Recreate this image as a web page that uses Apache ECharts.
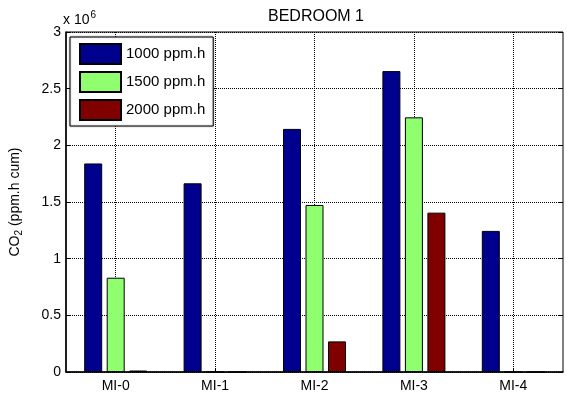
<!DOCTYPE html>
<html>
<head>
<meta charset="utf-8">
<script src="https://cdn.jsdelivr.net/npm/echarts@6/dist/echarts.min.js"></script>
<style>
  html, body { margin: 0; padding: 0; background: #fff; }
  #chart { width: 567px; height: 401px; }
</style>
</head>
<body>
<div id="chart"></div>
<script>
// Cumulative CO2 exposure above thresholds, per scenario
const categories = ['MI-0', 'MI-1', 'MI-2', 'MI-3', 'MI-4'];
const seriesNames = ['1000 ppm.h', '1500 ppm.h', '2000 ppm.h'];
const above1000 = [1840000, 1665000, 2145000, 2655000, 1245000];
const above1500 = [832000, 0, 1474000, 2247000, 0];
const above2000 = [13000, 0, 270000, 1406000, 0];
const yTicks = [0, 500000, 1000000, 1500000, 2000000, 2500000, 3000000];
const colors = ['#00008F', '#8FFF70', '#800000'];

const FONT = 'Liberation Sans, Arial, sans-serif';
const chart = echarts.init(document.getElementById('chart'), null, { renderer: 'canvas' });

const values = [above1000, above1500, above2000];
const series = values.map((vals, i) => ({
  name: seriesNames[i],
  type: 'bar',
  data: vals,
  barWidth: 18,
  barGap: '25%',
  itemStyle: { color: colors[i], borderColor: '#000', borderWidth: 1 },
  emphasis: { disabled: true },
  animation: false
}));

const gridLine = { show: true, lineStyle: { color: '#000', type: [1, 1], width: 1 } };

chart.setOption({
  animation: false,
  title: {
    text: 'BEDROOM 1',
    left: 311, top: 4, textAlign: 'center',
    textStyle: { fontFamily: FONT, fontSize: 16, fontWeight: 'normal', color: '#000' }
  },
  legend: {
    orient: 'vertical',
    left: 70, top: 37,
    padding: [6, 8, 5, 9],
    itemWidth: 41, itemHeight: 20, itemGap: 6,
    icon: 'rect',
    backgroundColor: '#fff',
    borderColor: '#000', borderWidth: 1,
    shadowColor: 'rgba(0,0,0,0.35)', shadowBlur: 2,
    textStyle: { fontFamily: FONT, fontSize: 15, color: '#000', padding: [0, 0, 0, 0] },
    data: seriesNames
  },
  grid: {
    left: 62, right: 4, top: 32, bottom: 29,
    show: true, borderColor: '#000', borderWidth: 1, backgroundColor: 'transparent'
  },
  xAxis: {
    type: 'category',
    data: categories,
    axisLine: { lineStyle: { color: '#000', width: 1.5 } },
    axisTick: { show: true, inside: true, alignWithLabel: true, length: 4, lineStyle: { color: '#000' } },
    splitLine: Object.assign({ alignWithLabel: true }, gridLine),
    axisLabel: { fontFamily: FONT, fontSize: 14, color: '#000', margin: 7 }
  },
  yAxis: [{
    type: 'value',
    min: yTicks[0], max: yTicks[yTicks.length - 1], interval: yTicks[1] - yTicks[0],
    axisLine: { show: true, lineStyle: { color: '#000', width: 1.5 } },
    axisTick: { show: true, inside: true, length: 4, lineStyle: { color: '#000' } },
    splitLine: gridLine,
    axisLabel: {
      fontFamily: FONT, fontSize: 14, color: '#000', margin: 5,
      formatter: v => String(v / 1e6)
    },
    name: '{n|CO}{s|2}{n| (ppm.h cum)}',
    nameLocation: 'middle',
    nameGap: 42,
    nameRotate: 90,
    nameTextStyle: {
      rich: {
        n: { fontFamily: FONT, fontSize: 14, color: '#000' },
        s: { fontFamily: FONT, fontSize: 10, color: '#000', verticalAlign: 'bottom', padding: [8, 0, 0, 0] }
      }
    }
  }, {
    type: 'value',
    position: 'right',
    min: yTicks[0], max: yTicks[yTicks.length - 1], interval: yTicks[1] - yTicks[0],
    axisLine: { show: false },
    axisTick: { show: true, inside: true, length: 4, lineStyle: { color: '#000' } },
    axisLabel: { show: false },
    splitLine: { show: false }
  }],
  graphic: [{
    type: 'text',
    left: 63, top: 10,
    style: {
      text: '{n|x 10}{e|6}',
      rich: {
        n: { fontFamily: FONT, fontSize: 14, fill: '#000' },
        e: { fontFamily: FONT, fontSize: 10, fill: '#000', verticalAlign: 'top', padding: [0, 0, 10, 1] }
      }
    }
  }],
  series: series
});
</script>
</body>
</html>
